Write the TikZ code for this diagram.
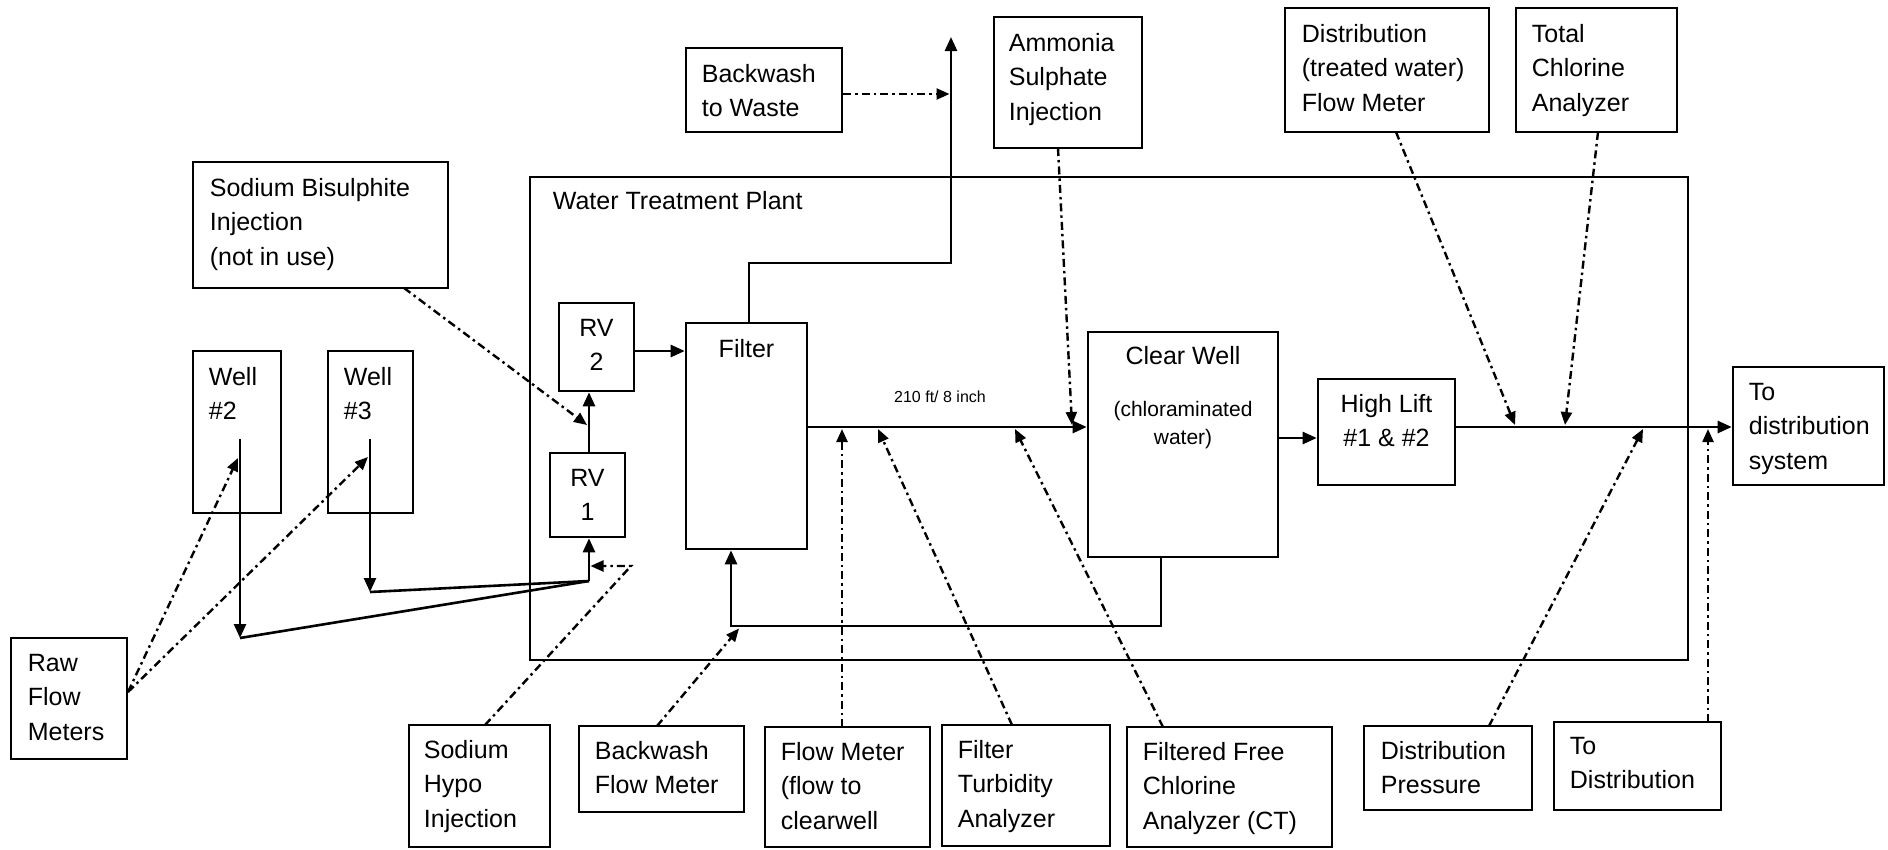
\documentclass[tikz,border=0pt]{standalone}
\usepackage{fontspec}
\setmainfont{Liberation Sans}
\usetikzlibrary{arrows.meta,fit,calc}
\newcommand\fsN{\fontsize{25}{34.5}\selectfont}
\newcommand\fsS{\fontsize{16}{19}\selectfont}
\newcommand\fsM{\fontsize{21}{28}\selectfont}
\begin{document}
\begin{tikzpicture}[x=1pt,y=-1pt,
  box/.style={draw, line width=2.6pt, inner sep=0pt},
  txt/.style={inner sep=0pt, anchor=north west, align=left, font=\fsN},
  ctxt/.style={inner sep=0pt, anchor=north, align=center, font=\fsN},
  flow/.style={line width=2.6pt, -{Triangle[length=14pt,width=12pt]}},
  pipe/.style={line width=2.6pt},
  sig/.style={line width=2.4pt, dash pattern=on 8pt off 4pt on 2.5pt off 4pt, -{Triangle[length=13pt,width=11pt]}}]
\useasboundingbox (0,0) rectangle (1888,849);
\fill[white] (0,0) rectangle (1888,849);

% ---------- boxes ----------
\node[box, fit={(530,177) (1688,660)}] (plant) {};
\node[txt] (plantT) at ([shift={(24,15)}]plant.north west) {Water Treatment Plant};

\node[box, fit={(686,48) (842,132)}] (bww) {};
\node[txt] at ([shift={(17,17)}]bww.north west) {Backwash\\to Waste};
\node[box, fit={(994,17) (1142,148)}] (amm) {};
\node[txt] at ([shift={(16,17)}]amm.north west) {Ammonia\\Sulphate\\Injection};
\node[box, fit={(1285,8) (1489,132)}] (dfm) {};
\node[txt] at ([shift={(18,17)}]dfm.north west) {Distribution\\(treated water)\\Flow Meter};
\node[box, fit={(1516,8) (1677,132)}] (tca) {};
\node[txt] at ([shift={(17,17)}]tca.north west) {Total\\Chlorine\\Analyzer};
\node[box, fit={(193,162) (448,288)}] (bis) {};
\node[txt] at ([shift={(18,17)}]bis.north west) {Sodium Bisulphite\\Injection\\(not in use)};

\node[box, fit={(559,303) (634,391)}] (rv2) {};
\node[ctxt] at ([shift={(0,17)}]rv2.north) {RV\\2};
\node[box, fit={(550,453) (625,537)}] (rv1) {};
\node[ctxt] at ([shift={(0,17)}]rv1.north) {RV\\1};
\node[box, fit={(686,323) (807,549)}] (filt) {};
\node[ctxt] at ([shift={(0,17)}]filt.north) {Filter};

\node[box, fit={(193,351) (281,513)}] (well2) {};
\node[txt] at ([shift={(17,17)}]well2.north west) {Well\\\#2};
\node[box, fit={(328,351) (413,513)}] (well3) {};
\node[txt] at ([shift={(17,17)}]well3.north west) {Well\\\#3};
\node[box, fit={(11,638) (127,759)}] (raw) {};
\node[txt] at ([shift={(18,17)}]raw.north west) {Raw\\Flow\\Meters};

\node[box, fit={(1088,332) (1278,557)}] (cw) {};
\node[ctxt] at ([shift={(0,15)}]cw.north) {Clear Well};
\node[ctxt, font=\fsM] at ([shift={(0,70)}]cw.north) {(chloraminated\\water)};
\node[box, fit={(1318,379) (1455,485)}] (hl) {};
\node[ctxt] at ([shift={(0,16)}]hl.north) {High Lift\\\#1 \& \#2};
\node[box, fit={(1733,367) (1884,485)}] (tds) {};
\node[txt] at ([shift={(17,17)}]tds.north west) {To\\distribution\\system};

\node[box, fit={(409,725) (550,847)}] (hypo) {};
\node[txt] at ([shift={(16,16)}]hypo.north west) {Sodium\\Hypo\\Injection};
\node[box, fit={(579,726) (744,812)}] (bfm) {};
\node[txt] at ([shift={(17,16)}]bfm.north west) {Backwash\\Flow Meter};
\node[box, fit={(765,727) (930,847)}] (fm) {};
\node[txt] at ([shift={(17,16)}]fm.north west) {Flow Meter\\(flow to\\clearwell};
\node[box, fit={(942,725) (1110,846)}] (turb) {};
\node[txt] at ([shift={(17,16)}]turb.north west) {Filter\\Turbidity\\Analyzer};
\node[box, fit={(1127,727) (1332,847)}] (ffc) {};
\node[txt] at ([shift={(17,16)}]ffc.north west) {Filtered Free\\Chlorine\\Analyzer (CT)};
\node[box, fit={(1364,726) (1532,810)}] (dp) {};
\node[txt] at ([shift={(18,16)}]dp.north west) {Distribution\\Pressure};
\node[box, fit={(1554,722) (1721,810)}] (td) {};
\node[txt] at ([shift={(17,16)}]td.north west) {To\\Distribution};

\node[inner sep=0pt, font=\fsS] (pipeL) at (940,397) {210 ft/ 8 inch};

% ---------- coordinates ----------
\coordinate (j) at (589,581);
\coordinate (w2s) at (240,439);
\coordinate (w2b) at (240,638);
\coordinate (w3s) at (370,439);
\coordinate (w3b) at (370,592);
\coordinate (r2f) at (0,351);
\coordinate (ft) at (749,263);
\coordinate (waste) at (951,37);
\coordinate (ml) at (0,427);
\coordinate (m2) at (0,438);
\coordinate (bwr) at (1161,626);
\coordinate (bwx) at (731,626);
\coordinate (bwy) at (0,94);

% ---------- process flow ----------
\draw[flow] (w2s) -- (w2b);
\draw[pipe] (w2b) -- (j);
\draw[flow] (w3s) -- (w3b);
\draw[pipe] (w3b) -- (j);
\draw[flow] (j) -- (rv1.south -| j);
\draw[flow] (rv1.north -| j) -- (rv2.south -| j);
\draw[flow] (rv2.east |- r2f) -- (filt.west |- r2f);
\draw[flow] (filt.north -| ft) -- (ft) -| (waste);
\draw[flow] (filt.east |- ml) -- (cw.west |- ml);
\draw[flow] (cw.east |- m2) -- (hl.west |- m2);
\draw[flow] (hl.east |- ml) -- (tds.west |- ml);
\draw[flow] (cw.south -| bwr) -- (bwr) -- (bwx) -- (filt.south -| bwx);

% ---------- instruments / injections ----------
\coordinate (rawp) at (128,692);
\draw[sig] (rawp) -- (238,458);
\draw[sig] (rawp) -- (368,457);
\draw[sig] (bww.east |- bwy) -- (949.5,94);
\draw[sig] (1058,148) -- (1072,425);
\draw[sig] (1396,132) -- (1515,425);
\draw[sig] (1598,132) -- (1565,425);
\draw[sig] (404,288) -- (587,425);
\draw[sig] (485,725) -- (631,566) -- (590.5,566);
\draw[sig] (657,726) -- (739,628.5);
\draw[sig] (842,727) -- (842,429);
\draw[sig] (1012,725) -- (878,429);
\draw[sig] (1163,727) -- (1015,429);
\draw[sig] (1489,726) -- (1643,429);
\draw[sig] (1708,722) -- (1708,429);
\end{tikzpicture}
\end{document}
